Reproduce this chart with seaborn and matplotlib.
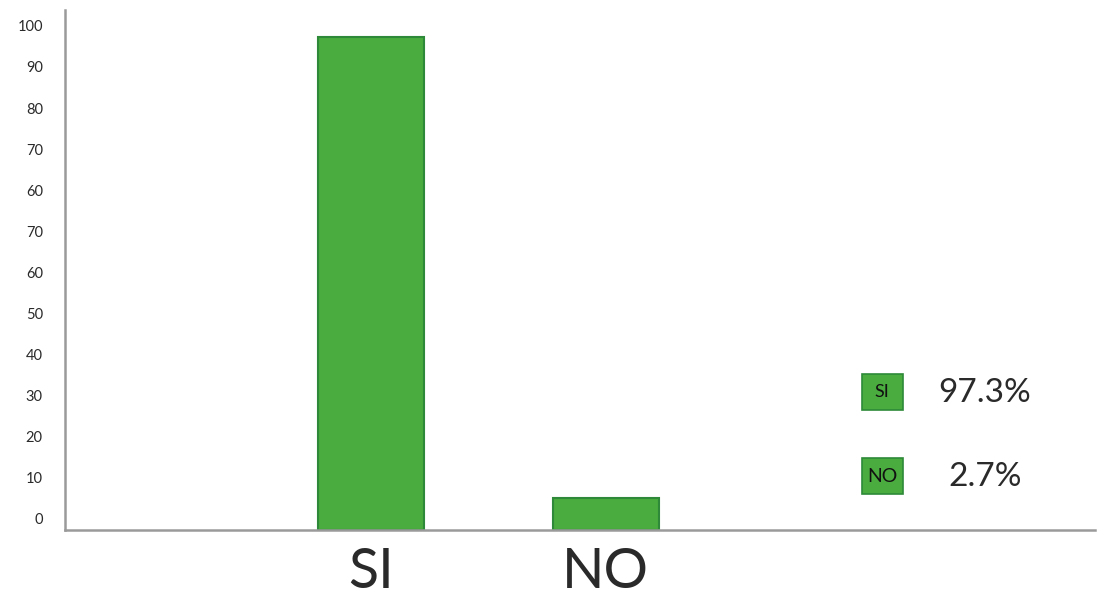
import numpy as np
import pandas as pd
import matplotlib
matplotlib.use("Agg")
import matplotlib.pyplot as plt
import matplotlib.transforms as mtransforms
from matplotlib.patches import Rectangle
import seaborn as sns

# Data
categories = ["SI", "NO"]
values = [100.0, 6.5]
legend_labels = ["97.3%", "2.7%"]
ytick_values = [0, 100/12, 200/12, 300/12, 400/12, 500/12, 600/12, 700/12, 800/12, 900/12, 1000/12, 1100/12, 100]
ytick_labels = ["0", "10", "20", "30", "40", "50", "60", "70", "60", "70", "80", "90", "100"]

sns.set_theme(style="white")
plt.rcParams['font.family'] = ['Lato', 'DejaVu Sans']

GREEN = "#4aab3e"
EDGE = "#2e8a38"
AXIS = "#9a9a9a"
TEXT = "#2a2a2a"

fig = plt.figure(figsize=(10.97, 6.0), dpi=100)
ax = fig.add_axes([65/1097, 70/600, (1095-65)/1097, (530-10)/600])

df = pd.DataFrame({"cat": categories, "val": values})
sns.barplot(data=df, x="cat", y="val", order=categories, color=GREEN,
            width=0.45, saturation=1, edgecolor=EDGE, linewidth=1.5, ax=ax)

ax.set_xlim(-1.30, 3.08)
ax.set_ylim(0, 100 * (520/41.1) / 12)
ax.set_xlabel("")
ax.set_ylabel("")

for side in ["top", "right"]:
    ax.spines[side].set_visible(False)
for side in ["left", "bottom"]:
    ax.spines[side].set_color(AXIS)
    ax.spines[side].set_linewidth(1.8)

ax.set_yticks(ytick_values)
ax.set_yticklabels(ytick_labels, fontsize=10.5, color=TEXT)
ax.tick_params(axis="y", length=0, pad=16)
ax.tick_params(axis="x", length=0, pad=12, labelsize=40, labelcolor=TEXT)

offset = mtransforms.ScaledTranslation(0, 0.11, fig.dpi_scale_trans)
for lab in ax.get_yticklabels():
    lab.set_transform(lab.get_transform() + offset)
    lab.set_horizontalalignment("right")

# Manual legend (figure pixel layout)
W, H = 1097, 600
box_y = [374, 458]
for cat, lab, by in zip(categories, legend_labels, box_y):
    r = Rectangle((862/W, 1 - (by + 36)/H), 41/W, 36/H, transform=fig.transFigure,
                  facecolor=GREEN, edgecolor=EDGE, linewidth=1.2)
    fig.add_artist(r)
    fig.text(882/W, 1 - (by + 18)/H, cat, ha="center", va="center",
             fontsize=13 if cat == "SI" else 14, color="#111111")
    fig.text(985/W, 1 - (by + 19)/H, lab, ha="center", va="center",
             fontsize=24, color=TEXT)

fig.savefig("out.png", dpi=100, facecolor="white")
